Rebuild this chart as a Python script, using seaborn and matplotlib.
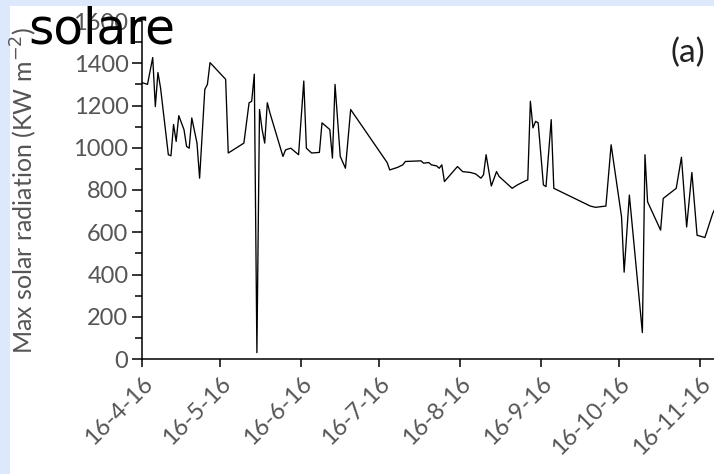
import numpy as np
import pandas as pd
import seaborn as sns
import matplotlib.pyplot as plt
import matplotlib.dates as mdates
from matplotlib.ticker import MultipleLocator, FuncFormatter
from matplotlib.patches import Rectangle

# daily max solar radiation
dates = ['2016-04-16', '2016-04-18', '2016-04-20', '2016-04-21', '2016-04-22', '2016-04-23',
         '2016-04-26', '2016-04-27', '2016-04-28', '2016-04-29', '2016-04-30', '2016-05-02',
         '2016-05-03', '2016-05-04', '2016-05-05', '2016-05-07', '2016-05-08', '2016-05-10',
         '2016-05-11', '2016-05-12', '2016-05-18', '2016-05-19', '2016-05-25', '2016-05-27',
         '2016-05-28', '2016-05-29', '2016-05-30', '2016-05-31', '2016-06-01', '2016-06-02',
         '2016-06-03', '2016-06-04', '2016-06-09', '2016-06-10', '2016-06-12', '2016-06-15',
         '2016-06-17', '2016-06-18', '2016-06-20', '2016-06-23', '2016-06-24', '2016-06-27',
         '2016-06-28', '2016-06-29', '2016-07-01', '2016-07-03', '2016-07-05', '2016-07-19',
         '2016-07-20', '2016-07-23', '2016-07-25', '2016-07-26', '2016-08-01', '2016-08-02',
         '2016-08-04', '2016-08-05', '2016-08-07', '2016-08-08', '2016-08-09', '2016-08-10',
         '2016-08-15', '2016-08-17', '2016-08-20', '2016-08-22', '2016-08-24', '2016-08-25',
         '2016-08-26', '2016-08-28', '2016-08-30', '2016-08-31', '2016-09-05', '2016-09-07',
         '2016-09-10', '2016-09-11', '2016-09-12', '2016-09-13', '2016-09-14', '2016-09-15',
         '2016-09-17', '2016-09-18', '2016-09-20', '2016-09-21', '2016-10-05', '2016-10-07',
         '2016-10-11', '2016-10-13', '2016-10-17', '2016-10-18', '2016-10-20', '2016-10-25',
         '2016-10-26', '2016-10-27', '2016-11-01', '2016-11-02', '2016-11-07', '2016-11-09',
         '2016-11-11', '2016-11-13', '2016-11-15', '2016-11-18', '2016-11-21', '2016-11-23']
max_rad = [1308, 1300, 1427, 1195, 1356, 1284,
           967, 962, 1110, 1030, 1152, 1086,
           1006, 998, 1141, 1022, 856, 1276,
           1300, 1403, 1324, 975, 1022, 1213,
           1220, 1348, 30, 1181, 1086, 1022,
           1213, 1165, 959, 990, 998, 967,
           1316, 998, 975, 978, 1118, 1086,
           951, 1300, 959, 903, 1181, 930,
           895, 907, 919, 935, 938, 927,
           930, 919, 914, 903, 919, 840,
           911, 887, 883, 876, 856, 872,
           967, 819, 887, 864, 808, 824,
           843, 848, 1220, 1094, 1125, 1118,
           824, 816, 1133, 808, 724, 718,
           724, 1014, 673, 411, 776, 125,
           967, 744, 610, 760, 808, 955,
           625, 883, 586, 575, 689, 740]

df = pd.DataFrame({'date': pd.to_datetime(dates), 'rad': max_rad})

sns.set_style('ticks')
plt.rcParams['font.family'] = ['Lato', 'DejaVu Sans']

fig = plt.figure(figsize=(7.14, 4.74), dpi=100, facecolor='#dce8fc')
fig.patches.append(Rectangle((10 / 714, 0), 704 / 714, 468 / 474, transform=fig.transFigure,
                             facecolor='white', edgecolor='none', zorder=-5))
ax = fig.add_axes([142.3 / 714, 1 - 359 / 474, 1 - 142.3 / 714, (359 - 21) / 474])
ax.set_facecolor('white')

sns.lineplot(data=df, x='date', y='rad', ax=ax, color='black', linewidth=0.95)

ax.set_ylim(0, 1600)
ax.set_xlim(pd.Timestamp('2016-04-16'), pd.Timestamp('2016-04-16') + pd.Timedelta(days=219.5))
ax.yaxis.set_major_locator(MultipleLocator(200))
ax.yaxis.set_minor_locator(MultipleLocator(100))
ax.xaxis.set_major_locator(mdates.MonthLocator(bymonthday=16))
ax.xaxis.set_major_formatter(FuncFormatter(
    lambda v, p: '{}-{}-{}'.format(mdates.num2date(v).day, mdates.num2date(v).month,
                                   mdates.num2date(v).year % 100)))

for s in ['top', 'right']:
    ax.spines[s].set_visible(False)
for s in ['left', 'bottom']:
    ax.spines[s].set_linewidth(1.1)
    ax.spines[s].set_color('black')

ax.tick_params(axis='y', which='major', length=7, width=1.1, direction='out',
               labelsize=17, labelcolor='#555555', color='black', pad=3)
ax.tick_params(axis='y', which='minor', length=5, width=1.1, direction='out', color='black')
ax.tick_params(axis='x', which='major', length=6, width=1.1, direction='out',
               labelsize=17, labelcolor='#555555', color='black', pad=4)
for lab in ax.get_xticklabels():
    lab.set_rotation(45)
    lab.set_ha('right')
    lab.set_rotation_mode('anchor')

ax.set_xlabel('')
ax.set_ylabel('Max solar radiation (KW m$^{-2}$)', fontsize=18, color='#555555')
ax.yaxis.set_label_coords((39 - 142.3) / 571.7, 0.5)

fig.text(0.964, 0.888, '(a)', fontsize=24, color='#222222', ha='center', va='center')
fig.text(28 / 714, 1 - 44 / 474, 'solare', fontsize=35, family='DejaVu Sans',
         color='black', ha='left', va='baseline')

fig.savefig('out.png', dpi=100, facecolor=fig.get_facecolor())
